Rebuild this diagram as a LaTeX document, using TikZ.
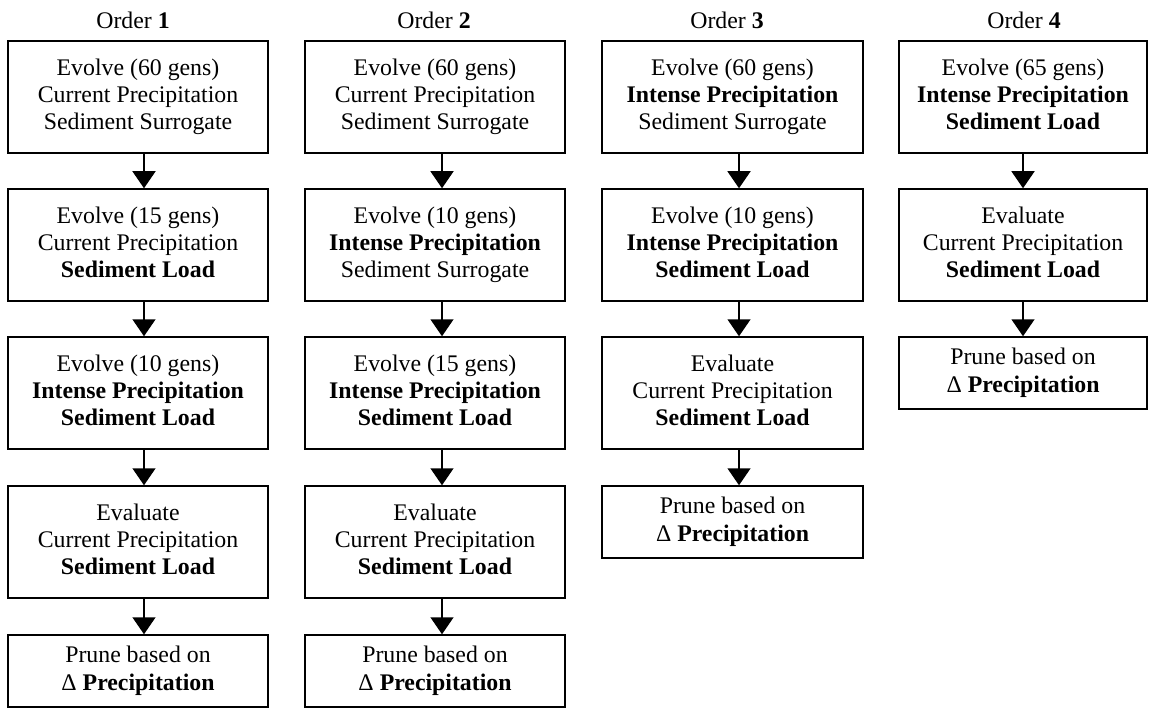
\documentclass[tikz,border=0pt]{standalone}
\usepackage{fontspec}
\setmainfont{Liberation Serif}
\usetikzlibrary{arrows.meta}
\tikzset{
  box/.style={draw, line width=1.5pt, inner sep=0pt, align=center,
    minimum height=112pt, font=\fontsize{23.8}{27.3}\selectfont},
  prunebox/.style={box, minimum height=72pt},
  w1/.style={minimum width=260pt},
  w3/.style={minimum width=261pt},
  w4/.style={minimum width=248pt},
  title/.style={inner sep=0pt, font=\fontsize{23.8}{27.3}\selectfont},
  arr/.style={line width=1.5pt, -{Triangle[length=17pt,width=23pt]}}
}
\begin{document}
\begin{tikzpicture}[x=1pt,y=-1pt]
\useasboundingbox (0,0) rectangle (1158,711);
% titles
\node[title] (t1) at (133,20) {Order \textbf{1}};
\node[title] (t2) at (434,20) {Order \textbf{2}};
\node[title] (t3) at (727,20) {Order \textbf{3}};
\node[title] (t4) at (1024,20) {Order \textbf{4}};
% column 1
\node[box,w1] (a1) at (138,97) {\strut Evolve (60 gens)\\Current Precipitation\\Sediment Surrogate\strut};
\node[box,w1] (a2) at (138,245) {\strut Evolve (15 gens)\\Current Precipitation\\\textbf{Sediment Load}\strut};
\node[box,w1] (a3) at (138,393) {\strut Evolve (10 gens)\\\textbf{Intense Precipitation}\\\textbf{Sediment Load}\strut};
\node[box,w1] (a4) at (138,542) {\strut Evaluate\\Current Precipitation\\\textbf{Sediment Load}\strut};
\node[prunebox,w1] (a5) at (138,671) {\strut Prune based on\\Δ \textbf{Precipitation}\strut};
% column 2
\node[box,w1] (b1) at (435,97) {\strut Evolve (60 gens)\\Current Precipitation\\Sediment Surrogate\strut};
\node[box,w1] (b2) at (435,245) {\strut Evolve (10 gens)\\\textbf{Intense Precipitation}\\Sediment Surrogate\strut};
\node[box,w1] (b3) at (435,393) {\strut Evolve (15 gens)\\\textbf{Intense Precipitation}\\\textbf{Sediment Load}\strut};
\node[box,w1] (b4) at (435,542) {\strut Evaluate\\Current Precipitation\\\textbf{Sediment Load}\strut};
\node[prunebox,w1] (b5) at (435,671) {\strut Prune based on\\Δ \textbf{Precipitation}\strut};
% column 3
\node[box,w3] (c1) at (732.5,97) {\strut Evolve (60 gens)\\\textbf{Intense Precipitation}\\Sediment Surrogate\strut};
\node[box,w3] (c2) at (732.5,245) {\strut Evolve (10 gens)\\\textbf{Intense Precipitation}\\\textbf{Sediment Load}\strut};
\node[box,w3] (c3) at (732.5,393) {\strut Evaluate\\Current Precipitation\\\textbf{Sediment Load}\strut};
\node[prunebox,w3] (c4) at (732.5,522) {\strut Prune based on\\Δ \textbf{Precipitation}\strut};
% column 4
\node[box,w4] (d1) at (1023,97) {\strut Evolve (65 gens)\\\textbf{Intense Precipitation}\\\textbf{Sediment Load}\strut};
\node[box,w4] (d2) at (1023,245) {\strut Evaluate\\Current Precipitation\\\textbf{Sediment Load}\strut};
\node[prunebox,w4] (d3) at (1023,373) {\strut Prune based on\\Δ \textbf{Precipitation}\strut};
% arrows
\foreach \p/\q in {a1/a2,a2/a3,a3/a4,a4/a5}
  \draw[arr] ([xshift=6pt]\p.south) -- ([xshift=6pt]\q.north);
\foreach \p/\q in {b1/b2,b2/b3,b3/b4,b4/b5}
  \draw[arr] ([xshift=7pt]\p.south) -- ([xshift=7pt]\q.north);
\foreach \p/\q in {c1/c2,c2/c3,c3/c4}
  \draw[arr] ([xshift=6.5pt]\p.south) -- ([xshift=6.5pt]\q.north);
\foreach \p/\q in {d1/d2,d2/d3}
  \draw[arr] (\p.south) -- (\q.north);
\end{tikzpicture}
\end{document}
